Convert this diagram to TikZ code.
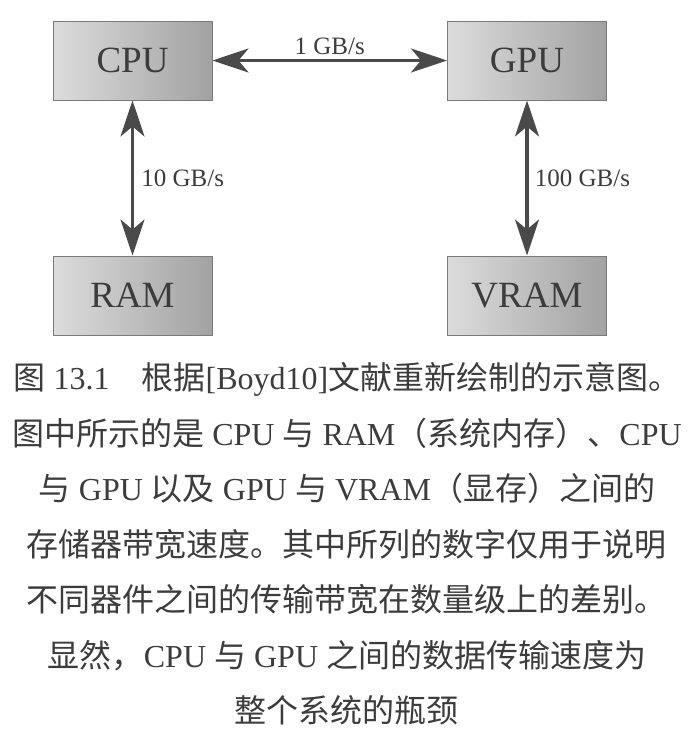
\documentclass[tikz,border=0pt]{standalone}
\usepackage{fontspec}
\setmainfont{Liberation Serif}
\newfontfamily\cjk{Noto Sans CJK SC}
\usetikzlibrary{arrows.meta}
\definecolor{boxlight}{HTML}{DCDCDC}
\definecolor{boxdark}{HTML}{A2A2A2}
\definecolor{boxline}{HTML}{7A7A7A}
\definecolor{ink}{HTML}{3C3C3C}
\definecolor{linkgray}{HTML}{4A4A4A}
\tikzset{
    unit/.style={draw=boxline, line width=1pt, left color=boxlight, right color=boxdark,
        minimum width=159pt, minimum height=79pt, text=ink, font=\fontsize{37}{42}\selectfont},
    link/.style={draw=linkgray, line width=3.2pt,
        {Stealth[length=36pt,width=24pt,inset=10pt]}-{Stealth[length=36pt,width=24pt,inset=10pt]}},
    rate/.style={text=ink, font=\fontsize{25}{30}\selectfont}
}
\begin{document}
\begin{tikzpicture}[x=1pt,y=-1pt]
    \useasboundingbox (0,0) rectangle (695,737);

    \node[unit] (cpu) at (132.5,60.5) {CPU};
    \node[unit] (gpu) at (527,60.5) {GPU};
    \node[unit] (ram) at (132.5,295.5) {RAM};
    \node[unit] (vram) at (527,295.5) {VRAM};

    \draw[link] (cpu) -- node[rate, above=1pt] {1 GB/s} (gpu);
    \draw[link] (cpu) -- node[rate, right=4pt] {10 GB/s} (ram);
    \draw[link] (gpu) -- node[rate, right=3pt] {100 GB/s} (vram);

    % caption
    \node[align=center, text=ink, font=\fontsize{32}{55.5}\selectfont] (caption) at (347,544) {%
        {\cjk 图} 13.1\quad{\cjk 根据}[Boyd10]{\cjk 文献重新绘制的示意图。}\\
        {\cjk 图中所示的是} CPU {\cjk 与} RAM{\cjk （系统内存）、}CPU\\
        {\cjk 与} GPU {\cjk 以及} GPU {\cjk 与} VRAM{\cjk （显存）之间的}\\
        {\cjk 存储器带宽速度。其中所列的数字仅用于说明}\\
        {\cjk 不同器件之间的传输带宽在数量级上的差别。}\\
        {\cjk 显然，}CPU {\cjk 与} GPU {\cjk 之间的数据传输速度为}\\
        {\cjk 整个系统的瓶颈}};
\end{tikzpicture}
\end{document}
